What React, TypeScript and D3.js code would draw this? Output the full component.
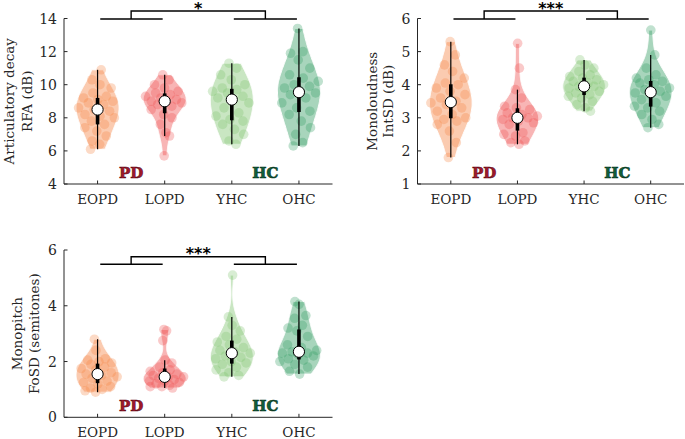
import React from 'react';
import * as d3 from 'd3';

const groups = ['EOPD', 'LOPD', 'YHC', 'OHC'];
const groupColors = ['#F58442', '#EE4F4F', '#7FC46E', '#2F9B5F'];

// Panel 1: Articulatory decay RFA (dB)
const rfaEOPD = [6.1, 6.4, 6.6, 6.9, 7.2, 7.4, 7.6, 7.8, 8.0, 8.1, 8.2, 8.4, 8.5, 8.6, 8.8, 8.9, 9.0, 9.1, 9.2, 9.3, 9.5, 9.8, 10.0, 10.3, 10.9];
const rfaLOPD = [5.7, 6.9, 7.1, 7.6, 8.0, 8.2, 8.5, 8.7, 8.8, 8.9, 9.0, 9.0, 9.1, 9.2, 9.3, 9.4, 9.5, 9.6, 9.8, 10.0, 10.3, 10.6];
const rfaYHC = [6.4, 6.6, 7.0, 7.3, 7.6, 7.8, 7.9, 8.1, 8.3, 8.6, 8.9, 9.1, 9.2, 9.3, 9.5, 9.6, 9.7, 9.8, 10.0, 10.3, 10.6, 11.0, 11.3];
const rfaOHC = [6.3, 6.5, 7.0, 7.4, 7.8, 8.2, 8.4, 8.6, 8.9, 9.2, 9.4, 9.5, 9.6, 9.8, 9.9, 10.0, 10.2, 10.4, 10.6, 11.0, 11.5, 11.9, 12.0, 13.4];

// Panel 2: Monoloudness IntSD (dB)
const intEOPD = [1.8, 2.25, 2.6, 2.8, 2.9, 2.95, 3.0, 3.1, 3.2, 3.3, 3.4, 3.45, 3.5, 3.6, 3.7, 3.8, 3.9, 4.0, 4.05, 4.2, 4.4, 4.6, 4.9, 5.3];
const intLOPD = [2.2, 2.25, 2.3, 2.45, 2.5, 2.55, 2.8, 2.85, 2.9, 2.95, 3.0, 3.0, 3.05, 3.1, 3.15, 3.25, 3.3, 3.35, 3.6, 3.85, 4.5, 5.25];
const intYHC = [3.2, 3.3, 3.4, 3.5, 3.6, 3.65, 3.7, 3.75, 3.8, 3.85, 3.9, 3.95, 3.95, 4.0, 4.05, 4.1, 4.15, 4.2, 4.25, 4.3, 4.4, 4.5, 4.6, 4.75];
const intOHC = [2.7, 2.8, 2.95, 3.1, 3.2, 3.3, 3.35, 3.45, 3.55, 3.65, 3.7, 3.75, 3.8, 3.85, 3.9, 4.0, 4.05, 4.1, 4.15, 4.2, 4.3, 4.5, 4.9, 5.65];

// Panel 3: Monopitch F0SD (semitones)
const f0EOPD = [0.9, 0.95, 1.0, 1.05, 1.1, 1.2, 1.25, 1.3, 1.4, 1.45, 1.5, 1.55, 1.6, 1.7, 1.75, 1.8, 1.9, 1.95, 2.0, 2.05, 2.1, 2.4, 2.8];
const f0LOPD = [1.05, 1.1, 1.1, 1.15, 1.2, 1.25, 1.3, 1.3, 1.35, 1.4, 1.45, 1.45, 1.5, 1.55, 1.6, 1.65, 1.7, 1.8, 1.95, 2.05, 2.75, 3.1, 3.15];
const f0YHC = [1.45, 1.5, 1.6, 1.7, 1.8, 1.9, 1.95, 2.0, 2.1, 2.15, 2.2, 2.3, 2.35, 2.4, 2.5, 2.6, 2.7, 2.8, 2.9, 3.1, 3.3, 3.6, 5.1];
const f0OHC = [1.55, 1.65, 1.8, 1.9, 2.0, 2.05, 2.1, 2.2, 2.25, 2.3, 2.3, 2.35, 2.4, 2.5, 2.6, 2.9, 3.1, 3.2, 3.3, 3.55, 3.65, 4.05, 4.15];

const yLabels1 = ['Articulatory decay', 'RFA (dB)'];
const yLabels2 = ['Monoloudness', 'IntSD (dB)'];
const yLabels3 = ['Monopitch', 'FoSD (semitones)'];

const yTicks1 = [4, 6, 8, 10, 12, 14];
const yTicks2 = [1, 2, 3, 4, 5, 6];
const yTicks3 = [0, 2, 4, 6];

const stars = ['*', '***', '***'];
const groupTags = ['PD', 'HC'];

type PanelDef = {
  data: number[][];
  domain: [number, number];
  ticks: number[];
  labels: string[];
  star: string;
  box: { left: number; right: number; top: number; bottom: number };
  labelOffsets: [number, number];
  sigLow: number;
  sigHigh: number;
};

const panels: PanelDef[] = [
  { data: [rfaEOPD, rfaLOPD, rfaYHC, rfaOHC], domain: [4, 14], ticks: yTicks1, labels: yLabels1, star: stars[0],
    box: { left: 64, right: 332.5, top: 18.5, bottom: 184 }, labelOffsets: [55, 37.5], sigLow: 0.5, sigHigh: -7.5 },
  { data: [intEOPD, intLOPD, intYHC, intOHC], domain: [1, 6], ticks: yTicks2, labels: yLabels2, star: stars[1],
    box: { left: 417.5, right: 684, top: 18.5, bottom: 184 }, labelOffsets: [46, 29.5], sigLow: 0.5, sigHigh: -7.5 },
  { data: [f0EOPD, f0LOPD, f0YHC, f0OHC], domain: [0, 6], ticks: yTicks3, labels: yLabels3, star: stars[2],
    box: { left: 64, right: 332.5, top: 250, bottom: 417.3 }, labelOffsets: [47, 30], sigLow: 14.3, sigHigh: 6.7 },
];

const FONT = '"DejaVu Serif", serif';

function boxStats(vals: number[]) {
  const s = [...vals].sort(d3.ascending);
  const q1 = d3.quantile(s, 0.25)!;
  const q3 = d3.quantile(s, 0.75)!;
  const med = d3.median(s)!;
  const iqr = q3 - q1;
  const lo = d3.min(s.filter((v) => v >= q1 - 1.5 * iqr))!;
  const hi = d3.max(s.filter((v) => v <= q3 + 1.5 * iqr))!;
  return { q1, q3, med, lo, hi };
}

function density(vals: number[]) {
  const n = vals.length;
  const med = d3.median(vals)!;
  const mad = d3.median(vals.map((v) => Math.abs(v - med)))!;
  let sig = mad / 0.6745;
  if (!sig) sig = d3.deviation(vals) || 1;
  const bw = 1.3 * sig * Math.pow(4 / (3 * n), 0.2);
  return (y: number) => d3.mean(vals, (v) => Math.exp(-0.5 * ((y - v) / bw) ** 2))! / bw;
}

const Panel: React.FC<{ p: PanelDef; pi: number }> = ({ p, pi }) => {
  const { left, right, top, bottom } = p.box;
  const x = d3.scaleLinear().domain([0.5, 4.5]).range([left, right]);
  const y = d3.scaleLinear().domain(p.domain).range([bottom, top]);
  const halfW = 0.32;
  const cy = (top + bottom) / 2;

  return (
    <g>
      {p.data.map((vals, gi) => {
        const pos = gi + 1;
        const f = density(vals);
        const mn = d3.min(vals)!;
        const mx = d3.max(vals)!;
        const ys = d3.range(0, 101).map((k) => mn + ((mx - mn) * k) / 100);
        const dens = ys.map(f);
        const maxD = d3.max(dens)!;
        const w = (v: number) => (f(v) / maxD) * halfW;
        const pts = ys.map((yy, k) => ({ y: yy, w: (dens[k] / maxD) * halfW }));
        const area = d3
          .area<{ y: number; w: number }>()
          .y((d) => y(d.y))
          .x0((d) => x(pos - d.w))
          .x1((d) => x(pos + d.w));
        const st = boxStats(vals);
        const col = groupColors[gi];
        return (
          <g key={gi}>
            <path d={area(pts) || ''} fill={col} fillOpacity={0.42} stroke="#ffffff" strokeWidth={1} />
            {vals.map((v, i) => {
              const j = (((i * 0.6180339887 + gi * 0.37 + pi * 0.21) % 1) * 2 - 1) * 0.95;
              return (
                <circle key={i} cx={x(pos + j * w(v))} cy={y(v)} r={4.8} fill={col} fillOpacity={0.3} />
              );
            })}
            <line x1={x(pos)} x2={x(pos)} y1={y(st.lo)} y2={y(st.hi)} stroke="#000" strokeWidth={1.2} />
            <line x1={x(pos)} x2={x(pos)} y1={y(st.q1)} y2={y(st.q3)} stroke="#000" strokeWidth={3.6} />
            <circle cx={x(pos)} cy={y(st.med)} r={5.6} fill="#fff" stroke="#000" strokeWidth={1} />
          </g>
        );
      })}

      <line x1={left} x2={left} y1={top} y2={bottom} stroke="#262626" strokeWidth={1} />
      <line x1={left} x2={right} y1={bottom} y2={bottom} stroke="#262626" strokeWidth={1} />
      {p.ticks.map((t) => (
        <g key={t}>
          <line x1={left} x2={left + 3.5} y1={y(t)} y2={y(t)} stroke="#262626" strokeWidth={1} />
          <text x={left - 7} y={y(t)} dy="0.36em" textAnchor="end" fontFamily={FONT} fontSize={14} fill="#262626">
            {t}
          </text>
        </g>
      ))}
      {groups.map((g, gi) => (
        <g key={g}>
          <line x1={x(gi + 1)} x2={x(gi + 1)} y1={bottom} y2={bottom - 3.5} stroke="#262626" strokeWidth={1} />
          <text x={x(gi + 1)} y={bottom + 20} textAnchor="middle" fontFamily={FONT} fontSize={13.5} fill="#262626">
            {g}
          </text>
        </g>
      ))}

      {p.labels.map((l, li) => (
        <text
          key={li}
          transform={`translate(${left - p.labelOffsets[li]},${cy}) rotate(-90)`}
          textAnchor="middle"
          dominantBaseline="central"
          fontFamily={FONT}
          fontSize={13.5}
          fill="#262626"
        >
          {l}
        </text>
      ))}

      <text x={x(1.5)} y={bottom - 6} textAnchor="middle" fontFamily={FONT} fontWeight="bold" fontSize={15}
        fill="#A3182C" stroke="#5C0A14" strokeWidth={0.6}>
        {groupTags[0]}
      </text>
      <text x={x(3.5)} y={bottom - 6} textAnchor="middle" fontFamily={FONT} fontWeight="bold" fontSize={15}
        fill="#11603A" stroke="#073520" strokeWidth={0.6}>
        {groupTags[1]}
      </text>

      <g stroke="#000" strokeWidth={1.4} fill="none">
        <line x1={x(1.04)} x2={x(1.97)} y1={top + p.sigLow} y2={top + p.sigLow} />
        <line x1={x(3.03)} x2={x(3.97)} y1={top + p.sigLow} y2={top + p.sigLow} />
        <polyline
          points={`${x(1.5)},${top + p.sigLow} ${x(1.5)},${top + p.sigHigh} ${x(3.5)},${top + p.sigHigh} ${x(3.5)},${top + p.sigLow}`}
        />
      </g>
      <text x={x(2.5)} y={top + p.sigHigh + 2.5} textAnchor="middle" fontFamily='"DejaVu Sans", sans-serif'
        fontWeight="bold" fontSize={16} fill="#000">
        {p.star}
      </text>
    </g>
  );
};

export default function App() {
  return (
    <svg
      width={685}
      height={439}
      style={{ position: 'absolute', left: 0, top: 0, background: '#fff' }}
      xmlns="http://www.w3.org/2000/svg"
    >
      <rect width={685} height={439} fill="#fff" />
      {panels.map((p, i) => (
        <Panel key={i} p={p} pi={i} />
      ))}
    </svg>
  );
}
